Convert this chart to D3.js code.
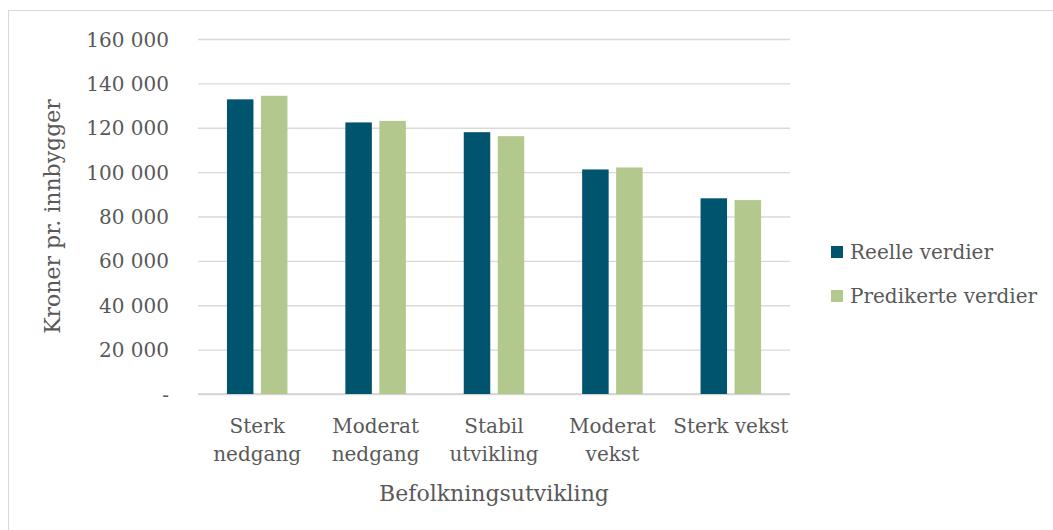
<!DOCTYPE html>
<html>
<head>
<meta charset="utf-8">
<script src="https://cdn.jsdelivr.net/npm/d3@7"></script>
<style>
	body { margin: 0; background: #fff; }
	svg text { font-family: "DejaVu Serif", serif; fill: #595959; }
</style>
</head>
<body>
<div id="chart"></div>
<script>

// data
const categories = [
	['Sterk', 'nedgang'],
	['Moderat', 'nedgang'],
	['Stabil', 'utvikling'],
	['Moderat', 'vekst'],
	['Sterk vekst']
];
const seriesNames = ['Reelle verdier', 'Predikerte verdier'];
const reelle = [132800, 122400, 118000, 101200, 88200];
const predikerte = [134400, 123100, 116200, 102100, 87400];
const yTicks = [0, 20000, 40000, 60000, 80000, 100000, 120000, 140000, 160000];
const colors = ['#00546e', '#b2c88c'];

const width = 1053, height = 530;
const plot = { left: 198, right: 790, top: 39, bottom: 394 };

const svg = d3.select('#chart')
	.append('svg')
		.attr('width', width)
		.attr('height', height);

// outer chart border
svg.append('rect')
	.attr('x', 8.5).attr('y', 10.5)
	.attr('width', 1060).attr('height', 540)
	.attr('fill', 'none')
	.attr('stroke', '#d9d9d9');

const xScale = d3.scaleBand()
	.domain(d3.range(categories.length))
	.range([plot.left, plot.right]);

const yScale = d3.scaleLinear()
	.domain([0, 160000])
	.range([plot.bottom, plot.top]);

// gridlines + tick labels
const fmt = v => v === 0 ? '-' : d3.format(',')(v).replace(/,/g, ' ');

const yAxis = d3.axisLeft(yScale)
	.tickValues(yTicks)
	.tickSize(-(plot.right - plot.left))
	.tickPadding(29)
	.tickFormat(fmt);

const gy = svg.append('g')
	.attr('transform', `translate(${plot.left}, 0)`)
	.call(yAxis);
gy.select('.domain').remove();
gy.selectAll('.tick line').attr('stroke', '#d9d9d9').attr('stroke-width', 1.3);
gy.selectAll('.tick text')
	.attr('font-size', 20)
	.attr('dy', '0.35em');

// baseline
svg.append('line')
	.attr('x1', plot.left).attr('x2', plot.right)
	.attr('y1', yScale(0)).attr('y2', yScale(0))
	.attr('stroke', '#d0d0d0').attr('stroke-width', 1.5);

// bars
const barW = 26.5, gap = 7.5;
const series = [reelle, predikerte];
series.forEach((vals, s) => {
	svg.append('g').selectAll('rect')
		.data(vals)
		.join('rect')
			.attr('x', (d, i) => xScale(i) + xScale.bandwidth() / 2 + (s === 0 ? -(gap / 2 + barW) : gap / 2))
			.attr('y', d => yScale(d))
			.attr('width', barW)
			.attr('height', d => yScale(0) - yScale(d))
			.attr('fill', colors[s]);
});

// category labels
const xl = svg.append('g');
categories.forEach((lines, i) => {
	const t = xl.append('text')
		.attr('x', xScale(i) + xScale.bandwidth() / 2)
		.attr('y', 433)
		.attr('text-anchor', 'middle')
		.attr('font-size', 20);
	lines.forEach((ln, j) => {
		t.append('tspan')
			.attr('x', xScale(i) + xScale.bandwidth() / 2)
			.attr('dy', j === 0 ? 0 : 28)
			.text(ln);
	});
});

// axis titles
svg.append('text')
	.attr('x', (plot.left + plot.right) / 2)
	.attr('y', 501)
	.attr('text-anchor', 'middle')
	.attr('font-size', 22)
	.text('Befolkningsutvikling');

svg.append('text')
	.attr('transform', `translate(60, ${(plot.top + plot.bottom) / 2}) rotate(-90)`)
	.attr('text-anchor', 'middle')
	.attr('font-size', 22)
	.text('Kroner pr. innbygger');

// legend
const legend = svg.append('g');
seriesNames.forEach((name, i) => {
	const y = 252 + i * 44;
	legend.append('rect')
		.attr('x', 831).attr('y', y - 6)
		.attr('width', 12).attr('height', 12)
		.attr('fill', colors[i]);
	legend.append('text')
		.attr('x', 850).attr('y', y)
		.attr('dy', '0.35em')
		.attr('font-size', 20)
		.text(name);
});

</script>
</body>
</html>
